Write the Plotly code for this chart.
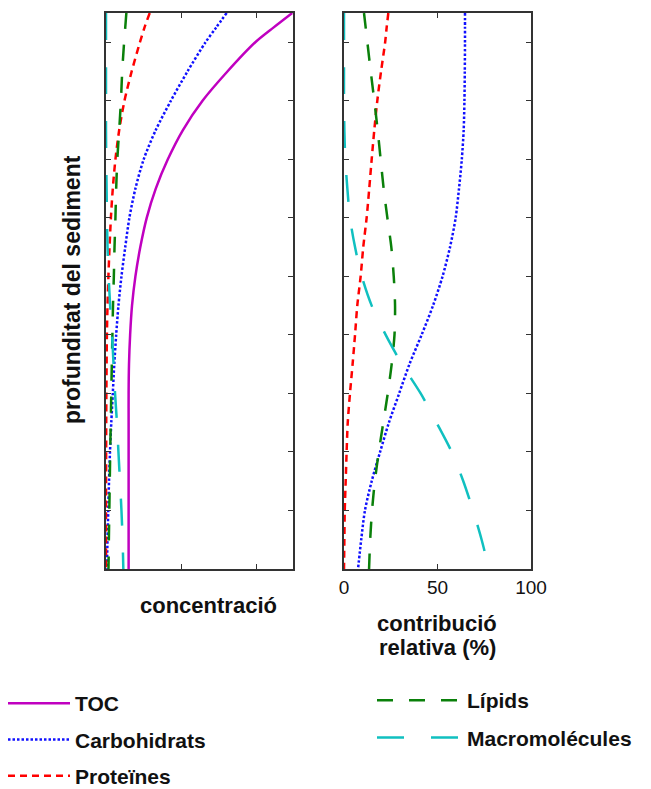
import plotly.graph_objects as go

# Sediment depth (arbitrary units, 0 = surface)
depth = [0, 0.25, 0.5, 1.0, 1.5, 2.0, 2.5, 3.0, 3.5, 4.0, 4.5,
         5.0, 5.5, 6.0, 6.5, 7.0, 7.5, 8.0, 8.5, 9.0, 9.5]

# Concentration profiles (arbitrary units)
conc_toc = [2.47, 2.22, 1.98, 1.61, 1.28, 1.02, 0.82, 0.66, 0.54, 0.455, 0.39,
            0.345, 0.32, 0.305, 0.30, 0.30, 0.30, 0.30, 0.30, 0.30, 0.30]
conc_carb = [1.60, 1.46, 1.32, 1.08, 0.86, 0.66, 0.50, 0.39, 0.31, 0.255, 0.205,
             0.165, 0.135, 0.11, 0.09, 0.07, 0.053, 0.04, 0.03, 0.02, 0.012]
conc_prot = [0.58, 0.51, 0.45, 0.34, 0.245, 0.175, 0.125, 0.09, 0.065, 0.047, 0.032,
             0.02, 0.012, 0.008, 0.005, 0.003, 0.002, 0.001, 0.0, 0.0, 0.0]
conc_lip = [0.27, 0.255, 0.24, 0.215, 0.198, 0.175, 0.15, 0.135, 0.125, 0.113, 0.104,
            0.093, 0.085, 0.077, 0.07, 0.063, 0.056, 0.05, 0.044, 0.038, 0.033]
conc_macro = [0.0, 0.0, 0.0, 0.0, 0.0, 0.0, 0.003, 0.008, 0.013, 0.02, 0.035,
              0.055, 0.08, 0.10, 0.12, 0.145, 0.165, 0.185, 0.205, 0.22, 0.23]

# Relative contribution to TOC (%)
rel_carb = [64.7, 64.7, 64.7, 64.6, 64.4, 64.0, 63.0, 61.5, 59.7, 56.7, 52.7,
            47.6, 41.5, 35.0, 29.5, 24.0, 19.3, 14.8, 11.2, 9.2, 7.5]
rel_prot = [23.7, 22.8, 22.0, 19.8, 17.8, 16.2, 14.8, 13.5, 12.1, 10.3, 8.9,
            7.1, 5.9, 4.6, 3.2, 2.0, 1.4, 0.9, 0.4, 0.2, 0.0]
rel_lip = [10.7, 11.6, 12.5, 14.3, 16.2, 18.0, 19.6, 21.2, 23.2, 25.3, 26.6,
           27.3, 27.0, 25.5, 23.4, 21.0, 18.6, 16.5, 15.0, 14.0, 13.4]
rel_macro = [0.0, 0.0, 0.0, 0.0, 0.0, 0.2, 0.7, 1.8, 3.2, 5.9, 9.5,
             14.8, 22.3, 31.0, 41.0, 49.5, 57.6, 63.8, 69.0, 73.6, 77.5]

rel_ticks = [0, 50, 100]
depth_ticks = [0.5, 1.5, 2.5, 3.5, 4.5, 5.5, 6.5, 7.5, 8.5, 9.5]

FONT = "Liberation Sans, Arial, sans-serif"

styles = {
    "TOC": dict(color="#c000c0", width=2.5, dash="solid"),
    "Carbohidrats": dict(color="#1010ff", width=2.5, dash="2.5px,2px"),
    "Proteïnes": dict(color="#ff0000", width=2.5, dash="7px,5px"),
    "Lípids": dict(color="#0a800a", width=2.5, dash="16px,16px"),
    "Macromolécules": dict(color="#10c0c0", width=2.5, dash="27px,27px"),
}

left = [("TOC", conc_toc), ("Carbohidrats", conc_carb), ("Proteïnes", conc_prot),
        ("Lípids", conc_lip), ("Macromolécules", conc_macro)]
right = [("Carbohidrats", rel_carb), ("Proteïnes", rel_prot),
         ("Lípids", rel_lip), ("Macromolécules", rel_macro)]
legend_of = {"TOC": "legend", "Carbohidrats": "legend", "Proteïnes": "legend",
             "Lípids": "legend2", "Macromolécules": "legend2"}

fig = go.Figure()
for name, vals in left:
    fig.add_trace(go.Scatter(
        x=vals, y=depth, mode="lines", name=name,
        line=dict(shape="spline", smoothing=0.8, **styles[name]),
        xaxis="x", yaxis="y", legend=legend_of[name], legendgroup=name,
        showlegend=True))
for name, vals in right:
    fig.add_trace(go.Scatter(
        x=vals, y=depth, mode="lines", name=name,
        line=dict(shape="spline", smoothing=0.8, **styles[name]),
        xaxis="x2", yaxis="y2", legendgroup=name, showlegend=False))

axis_common = dict(showline=True, linecolor="#333", linewidth=1.5, mirror="ticks",
                   ticks="inside", ticklen=5, tickcolor="#333", tickwidth=1.2,
                   showgrid=False, zeroline=False)

# plot area: x 106..531 px, y 13..569 px
PW, PH = 425, 556


def px(xp):
    return (xp - 106) / PW


def py(yp):
    return (569 - yp) / PH


legend_font = dict(size=21, family=FONT, color="#111", weight="bold")
title_font = dict(size=22, family=FONT, color="#111")

fig.update_layout(
    width=651, height=789,
    margin=dict(l=106, r=120, t=13, b=220, autoexpand=False),
    plot_bgcolor="white", paper_bgcolor="white",
    font=dict(family=FONT, color="#111"),
    xaxis=dict(domain=[0, 187 / PW], range=[0, 2.48], tickvals=[1, 2],
               showticklabels=False, **axis_common),
    yaxis=dict(range=[9.5, 0], tickvals=depth_ticks, showticklabels=False,
               **axis_common),
    xaxis2=dict(domain=[238 / PW, 1], range=[0, 100], tickvals=rel_ticks,
                tickfont=dict(size=19, color="#111"), anchor="y2", **axis_common),
    yaxis2=dict(range=[9.5, 0], tickvals=depth_ticks, showticklabels=False,
                anchor="x2", **axis_common),
    legend=dict(x=px(3), y=py(683), xanchor="left", yanchor="top",
                orientation="v", itemwidth=62, tracegroupgap=6,
                font=legend_font, bgcolor="rgba(0,0,0,0)"),
    legend2=dict(x=px(372), y=py(680), xanchor="left",
                 yanchor="top", orientation="v", itemwidth=85, tracegroupgap=7,
                 font=legend_font, bgcolor="rgba(0,0,0,0)"),
    annotations=[
        dict(text="<b>concentració</b>", x=px(208), y=py(605),
             xanchor="center", yanchor="middle",
             xref="paper", yref="paper", showarrow=False, font=title_font),
        dict(text="<b>contribució</b>", x=px(437), y=py(623),
             xanchor="center", yanchor="middle",
             xref="paper", yref="paper", showarrow=False, font=title_font),
        dict(text="<b>relativa (%)</b>", x=px(437), y=py(647),
             xanchor="center", yanchor="middle",
             xref="paper", yref="paper", showarrow=False, font=title_font),
        dict(text="<b>profunditat del sediment</b>", x=px(72), y=py(290),
             xanchor="center", yanchor="middle",
             xref="paper", yref="paper", showarrow=False,
             textangle=-90, font=dict(size=23, family=FONT, color="#111")),
    ],
)

fig.write_html("out.html")
